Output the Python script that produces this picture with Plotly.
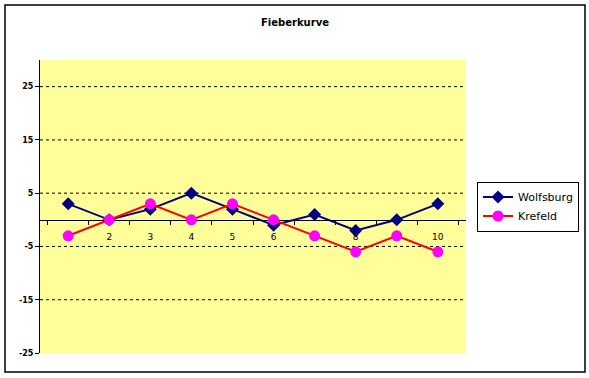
import plotly.graph_objects as go

categories = ["1", "2", "3", "4", "5", "6", "7", "8", "9", "10"]
wolfsburg = [3, 0, 2, 5, 2, -1, 1, -2, 0, 3]
krefeld = [-3, 0, 3, 0, 3, 0, -3, -6, -3, -6]
y_ticks = [-25, -15, -5, 5, 15, 25]
grid_vals = [-15, -5, 5, 15, 25]

fig = go.Figure()
fig.add_trace(go.Scatter(
    x=categories, y=wolfsburg, name="Wolfsburg", mode="lines+markers",
    line=dict(color="#000080", width=2),
    marker=dict(symbol="diamond", size=10, color="#000080"),
))
fig.add_trace(go.Scatter(
    x=categories, y=krefeld, name="Krefeld", mode="lines+markers",
    line=dict(color="#FF0000", width=2),
    marker=dict(symbol="circle", size=11, color="#FF00FF"),
))

ymin, ymax = -25, 30
for v in grid_vals:
    fig.add_shape(type="line", xref="paper", x0=0, x1=1, yref="y", y0=v, y1=v,
                  line=dict(color="black", width=1, dash="3px,3px"), layer="below")

# outer chart border
L, R, T, B = 40, 466, 60, 353
W, H = R - L, B - T
fig.add_shape(type="rect", xref="paper", yref="paper",
              x0=(5 - L) / W, x1=(585 - L) / W,
              y0=(B - 372) / H, y1=(B - 5) / H,
              line=dict(color="black", width=1.5), fillcolor="rgba(0,0,0,0)")

fig.update_layout(
    width=589, height=378,
    margin=dict(l=L, r=589 - R, t=T, b=378 - B, autoexpand=False),
    paper_bgcolor="white", plot_bgcolor="#FFFF99",
    font=dict(family="DejaVu Sans", size=9, color="black"),
    title=dict(text="Fieberkurve", x=295 / 589, xanchor="center", y=1 - 22 / 378,
               yanchor="middle",
               font=dict(family="DejaVu Sans", size=10, color="black", weight="bold")),
    showlegend=True,
    legend=dict(x=(477 - L) / W, y=0.5, xanchor="left", yanchor="middle",
                bordercolor="black", borderwidth=1, bgcolor="white",
                font=dict(family="DejaVu Sans", size=11), tracegroupgap=0,
                itemwidth=30),
    xaxis=dict(type="category", anchor="free", position=(0 - ymin) / (ymax - ymin),
               showline=True, linecolor="black", linewidth=1,
               ticks="outside", tickson="boundaries", ticklen=4, tickcolor="black",
               ticklabelstandoff=8,
               showgrid=False, zeroline=False, layer="below traces",
               tickfont=dict(size=9)),
    yaxis=dict(range=[ymin, ymax], tickvals=y_ticks,
               ticktext=[str(v) for v in y_ticks],
               showgrid=False, zeroline=False,
               showline=True, linecolor="black", linewidth=1,
               ticks="outside", ticklen=4, tickcolor="black",
               tickfont=dict(size=8, weight="bold")),
)

fig.write_html("out.html", config={"displayModeBar": False},
               post_script="document.body.style.margin='0px';")
